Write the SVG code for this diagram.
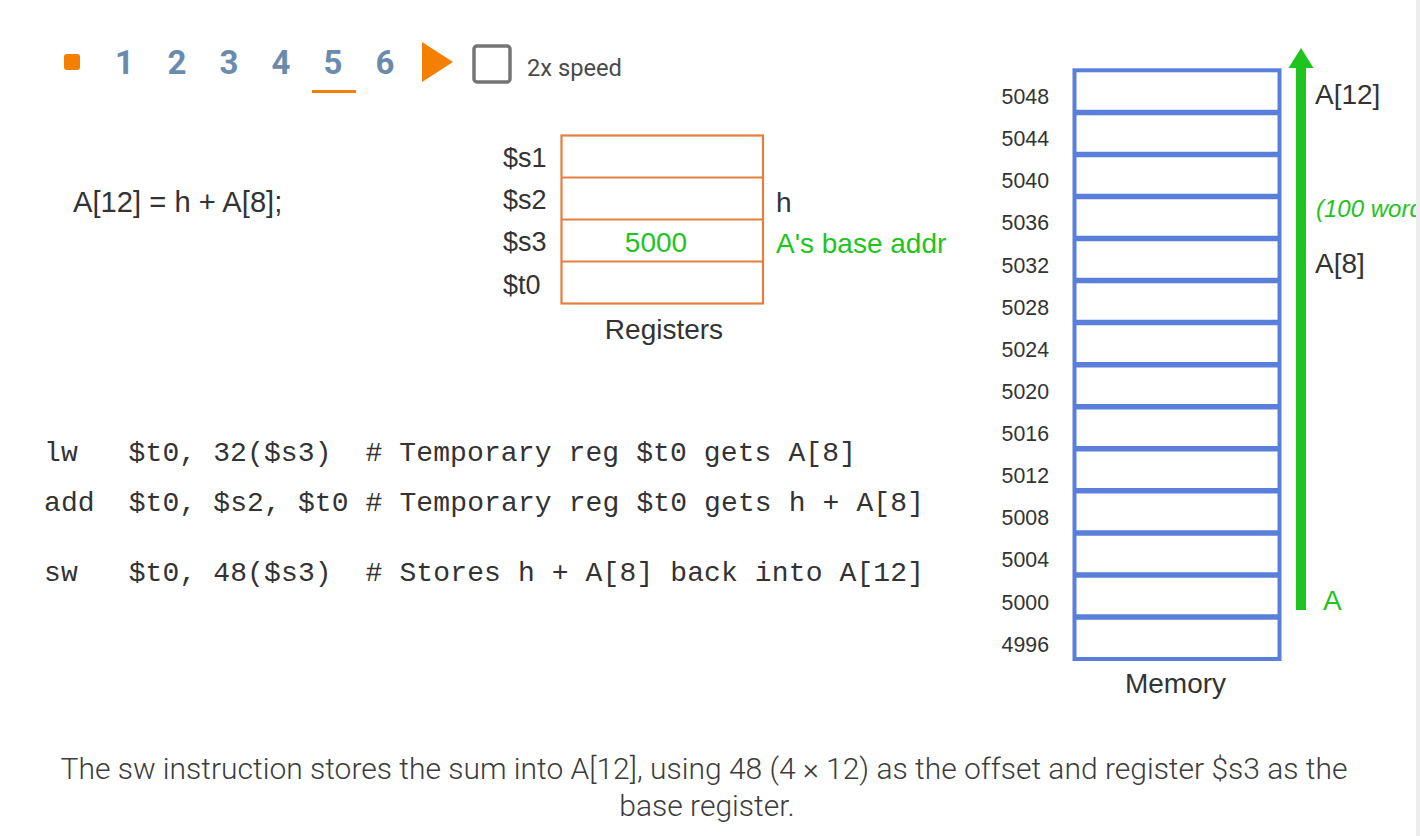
<svg xmlns="http://www.w3.org/2000/svg" width="1420" height="836" viewBox="0 0 1420 836">
<style>
.sans{font-family:"Liberation Sans",Arial,sans-serif;fill:#333}
.nav{font-family:Roboto,"Liberation Sans",sans-serif;font-weight:700;font-size:33px;fill:#6a8bad;text-anchor:middle}
.reg{font-size:28px}
.lbl{font-size:27px}
.addr{font-size:21.3px;text-anchor:end}
.mem{font-size:28px}
.green{fill:#1fc41f}
.code{font-family:"Liberation Mono","Courier New",monospace;font-size:28px;fill:#333;white-space:pre}
.cap{font-family:Roboto,"Liberation Sans",sans-serif;font-weight:300;font-size:30px;fill:#3c3c3c;text-anchor:middle}
</style>
<rect width="1420" height="836" fill="#fff"/>
<g id="nav">
<rect x="64" y="54" width="16" height="16" rx="3" fill="#f57f00"/>
<text class="nav" x="124.5" y="74">1</text>
<text class="nav" x="177" y="74">2</text>
<text class="nav" x="229" y="74">3</text>
<text class="nav" x="281" y="74">4</text>
<text class="nav" x="333" y="74">5</text>
<text class="nav" x="385" y="74">6</text>
<rect x="312" y="90" width="44" height="3" fill="#f57f00"/>
<polygon points="422,42 453,62 422,82" fill="#f57f00"/>
<rect x="474" y="46" width="36" height="36" rx="3" fill="none" stroke="#757575" stroke-width="3.5"/>
<text x="527" y="76" font-family="Roboto,'Liberation Sans',sans-serif" font-size="23.7" fill="#4a4a4a">2x speed</text>
</g>
<g id="statement">
<text class="sans" x="73" y="212" font-size="29.2">A[12] = h + A[8];</text>
</g>
<g id="registers">
<rect x="561.5" y="135.5" width="201.5" height="168" fill="none" stroke="#e47f3e" stroke-width="2.2"/>
<line x1="561.5" y1="177.5" x2="763" y2="177.5" stroke="#e47f3e" stroke-width="2.2"/>
<line x1="561.5" y1="219.5" x2="763" y2="219.5" stroke="#e47f3e" stroke-width="2.2"/>
<line x1="561.5" y1="261.5" x2="763" y2="261.5" stroke="#e47f3e" stroke-width="2.2"/>
<text class="sans lbl" x="503" y="167">$s1</text>
<text class="sans lbl" x="503" y="209">$s2</text>
<text class="sans lbl" x="503" y="251">$s3</text>
<text class="sans lbl" x="503" y="294">$t0</text>
<text class="sans reg green" x="656" y="252" text-anchor="middle">5000</text>
<text class="sans reg" x="776" y="212">h</text>
<text class="sans reg green" x="776" y="253">A's base addr</text>
<text class="sans reg" x="664" y="339" text-anchor="middle">Registers</text>
</g>
<g id="code">
<text class="code" x="44" y="461" textLength="812" lengthAdjust="spacing">lw   $t0, 32($s3)  # Temporary reg $t0 gets A[8]</text>
<text class="code" x="44" y="511" textLength="880" lengthAdjust="spacing">add  $t0, $s2, $t0 # Temporary reg $t0 gets h + A[8]</text>
<text class="code" x="44" y="581" textLength="880" lengthAdjust="spacing">sw   $t0, 48($s3)  # Stores h + A[8] back into A[12]</text>
</g>
<g id="memory">
<rect x="1074.5" y="70.3" width="205" height="588.7" fill="none" stroke="#5a7fda" stroke-width="4"/>
<g stroke="#5a7fda" stroke-width="5.5">
<line x1="1074.5" y1="112.4" x2="1279.5" y2="112.4"/>
<line x1="1074.5" y1="154.4" x2="1279.5" y2="154.4"/>
<line x1="1074.5" y1="196.5" x2="1279.5" y2="196.5"/>
<line x1="1074.5" y1="238.5" x2="1279.5" y2="238.5"/>
<line x1="1074.5" y1="280.6" x2="1279.5" y2="280.6"/>
<line x1="1074.5" y1="322.6" x2="1279.5" y2="322.6"/>
<line x1="1074.5" y1="364.7" x2="1279.5" y2="364.7"/>
<line x1="1074.5" y1="406.7" x2="1279.5" y2="406.7"/>
<line x1="1074.5" y1="448.8" x2="1279.5" y2="448.8"/>
<line x1="1074.5" y1="490.8" x2="1279.5" y2="490.8"/>
<line x1="1074.5" y1="532.9" x2="1279.5" y2="532.9"/>
<line x1="1074.5" y1="574.9" x2="1279.5" y2="574.9"/>
<line x1="1074.5" y1="617" x2="1279.5" y2="617"/>
</g>
<text class="sans addr" x="1049" y="104">5048</text>
<text class="sans addr" x="1049" y="146">5044</text>
<text class="sans addr" x="1049" y="188">5040</text>
<text class="sans addr" x="1049" y="230">5036</text>
<text class="sans addr" x="1049" y="272.5">5032</text>
<text class="sans addr" x="1049" y="314.6">5028</text>
<text class="sans addr" x="1049" y="356.8">5024</text>
<text class="sans addr" x="1049" y="398.9">5020</text>
<text class="sans addr" x="1049" y="441">5016</text>
<text class="sans addr" x="1049" y="483.2">5012</text>
<text class="sans addr" x="1049" y="525.3">5008</text>
<text class="sans addr" x="1049" y="567.4">5004</text>
<text class="sans addr" x="1049" y="609.6">5000</text>
<text class="sans addr" x="1049" y="651.7">4996</text>
<text class="sans mem" x="1175.5" y="693" text-anchor="middle">Memory</text>
<text class="sans mem" x="1315" y="104">A[12]</text>
<text class="sans mem" x="1315" y="272.5">A[8]</text>
<text class="sans mem green" x="1323" y="610">A</text>
<text class="sans green" x="1316" y="217" font-size="24" font-style="italic">(100 words)</text>
</g>
<g id="connectors">
<rect x="1296" y="66" width="10" height="544" fill="#1fc41f"/>
<polygon points="1301,48 1288.5,68 1313.5,68" fill="#1fc41f"/>
</g>
<rect x="1416" y="0" width="4" height="836" fill="#ededed"/>
<g id="caption">
<text class="cap" x="704" y="779">The sw instruction stores the sum into A[12], using 48 (4 × 12) as the offset and register $s3 as the</text>
<text class="cap" x="707" y="816">base register.</text>
</g>
</svg>
